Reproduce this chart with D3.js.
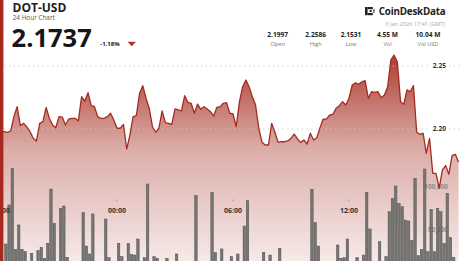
<!DOCTYPE html>
<html><head><meta charset="utf-8">
<script src="https://cdn.jsdelivr.net/npm/d3@7"></script>
<style>
html,body{margin:0;padding:0;background:#fff;overflow:hidden;}
svg{display:block;font-family:"Open Sans",sans-serif;}
</style></head><body>
<svg id="c" width="460" height="261"></svg>
<script>
// ---------- data ----------
const symbol = "DOT-USD";
const subtitle = "24 Hour Chart";
const lastPrice = "2.1737";
const changePct = "-1.18%";
const brand = "CoinDeskData";
const stamp = "6 Jan 2026 17:41 (GMT)";
const statLabels = ["Open", "High", "Low", "Vol", "Vol USD"];
const statValues = ["2.1997", "2.2586", "2.1531", "4.55 M", "10.04 M"];
const priceTicks = [2.20, 2.25];
const volumeTicks = [50000, 100000];
const timeTicks = ["2026-01-05T18:00:00Z", "2026-01-06T00:00:00Z", "2026-01-06T06:00:00Z", "2026-01-06T12:00:00Z"];
const startTime = "2026-01-05T17:50:00Z";
const stepMinutes = 10;
const prices = [
 2.1997,2.1979,2.1979,2.1974,2.1984,2.2098,2.2177,2.2026,2.2045,2.2018,
 2.1979,2.1926,2.1905,2.2045,2.2058,2.2172,2.2085,2.2032,2.2010,2.2098,
 2.2095,2.2032,2.2079,2.2085,2.2085,2.2064,2.2256,2.2222,2.2288,2.2185,
 2.2177,2.2098,2.2085,2.2085,2.2098,2.2125,2.2071,2.2006,2.2006,2.2037,
 2.1841,2.1952,2.2098,2.2106,2.2283,2.2344,2.2244,2.2164,2.2018,2.1974,
 2.2006,2.2143,2.2050,2.2045,2.2037,2.2159,2.2151,2.2143,2.2264,2.2212,
 2.2204,2.2125,2.2198,2.2156,2.2177,2.2159,2.2137,2.2103,2.2172,2.2177,
 2.2204,2.2209,2.2125,2.2119,2.2018,2.2217,2.2336,2.2389,2.2336,2.2256,
 2.2190,2.2006,2.1894,2.1873,2.1873,2.2045,2.1974,2.1894,2.1899,2.1899,
 2.1905,2.1926,2.1960,2.1921,2.1894,2.1913,2.1881,2.1966,2.1913,2.1931,
 2.2010,2.2079,2.2079,2.2111,2.2117,2.2164,2.2185,2.2217,2.2190,2.2244,
 2.2349,2.2367,2.2355,2.2375,2.2383,2.2244,2.2296,2.2291,2.2296,2.2248,
 2.2270,2.2336,2.2548,2.2586,2.2534,2.2217,2.2196,2.2310,2.2296,2.2344,
 2.1974,2.1958,2.1966,2.1807,2.1926,2.1648,2.1648,2.1531,2.1675,2.1709,
 2.1641,2.1788,2.1799,2.1737
];
const volumes = [
 12000,10000,33800,78900,121200,27700,55800,27700,24900,9000,
 23100,8000,26100,30000,17300,34600,97300,57700,10000,75100,
 77700,18500,7000,11000,9000,6000,70000,31500,22300,68500,
 12000,8000,10000,62700,18000,9000,13000,34600,19200,11000,
 34600,21900,21100,39600,12000,18000,103100,10000,19200,17300,
 9000,12000,17300,8000,11000,22300,10000,7000,12000,9000,
 11000,89600,8000,10000,13000,9000,93500,23800,12000,28100,
 10000,9000,19200,11000,22300,12000,54600,83800,9000,11000,
 8000,12000,24200,10000,21100,9000,12000,28900,10000,8000,
 13000,11000,9000,7000,12000,10000,11000,97000,58400,31500,
 9000,12000,8000,10000,13000,32700,17300,18000,39600,11000,
 9000,18000,12000,21100,93500,51200,10000,13000,36500,11000,
 19200,71100,86600,100800,80800,76900,61500,60400,37600,109700,
 20300,27700,120400,24900,73900,24900,75100,71100,34600,92400,
 41100,18500,10000,8000
];

// ---------- build ----------
const W = 460, H = 261;
const svg = d3.select("#c");
const t0 = new Date(startTime);
const times = prices.map((_, i) => d3.utcMinute.offset(t0, i * stepMinutes));
const tEnd = times[times.length - 1];
const data = prices.map((p, i) => ({t: times[i], p, v: volumes[i]}));

const x = d3.scaleUtc().domain([t0, tEnd]).range([-2.2, 458.55]);
const y = d3.scaleLinear().domain([2.20, 2.25]).range([129, 66]);
const yv = d3.scaleLinear().domain([0, 100000]).range([273.3, 186.7]);

const defs = svg.append("defs");
const grad = defs.append("linearGradient").attr("id", "g")
  .attr("gradientUnits", "userSpaceOnUse").attr("x1", 0).attr("x2", 0).attr("y1", 55).attr("y2", H);
grad.append("stop").attr("offset", 0).attr("stop-color", "#a3281c").attr("stop-opacity", 0.9);
grad.append("stop").attr("offset", 0.46).attr("stop-color", "#a3281c").attr("stop-opacity", 0.38);
grad.append("stop").attr("offset", 1).attr("stop-color", "#a3281c").attr("stop-opacity", 0.1);

// area
svg.append("path").datum(data)
  .attr("d", d3.area().x(d => x(d.t)).y0(H).y1(d => y(d.p)))
  .attr("fill", "url(#g)");

// price grid
const gridG = svg.append("g");
priceTicks.forEach(v => {
  [[4, 429], [449, 460]].forEach(([a, b]) => {
    gridG.append("line").attr("x1", a).attr("x2", b).attr("y1", y(v)).attr("y2", y(v))
      .attr("stroke", "#c9c9c9").attr("stroke-width", 1).attr("stroke-dasharray", "1.2,3.6");
  });
});
volumeTicks.forEach(v => {
  gridG.append("line").attr("x1", 4).attr("x2", 460).attr("y1", yv(v)).attr("y2", yv(v))
    .attr("stroke", "#c9c9c9").attr("stroke-width", 1).attr("stroke-dasharray", "1.2,3.6").attr("opacity", 0.8);
});

// volume labels
const fmtV = d3.format(",");
svg.append("g").selectAll("text").data(volumeTicks).join("text")
  .attr("x", 448).attr("y", d => yv(d) + 2.4).attr("text-anchor", "end")
  .attr("font-size", 6.4).attr("font-weight", 700).attr("fill", "#8e8a8a")
  .text(d => fmtV(d));

// bars
svg.append("g").selectAll("rect").data(data.slice(0, data.length)).join("rect")
  .attr("x", (d, i) => x(d.t) + 0.4)
  .attr("width", x(times[1]) - x(times[0]) - 0.8)
  .attr("y", d => yv(d.v))
  .attr("height", d => Math.max(0, yv(0) - yv(d.v)))
  .attr("fill", "#767672").attr("stroke", "#4f4f4d").attr("stroke-width", 0.5);

// line
svg.append("path").datum(data)
  .attr("d", d3.line().x(d => x(d.t)).y(d => y(d.p)))
  .attr("fill", "none").attr("stroke", "#a32c21").attr("stroke-width", 1.3)
  .attr("stroke-linejoin", "round");

// price labels
svg.append("g").selectAll("text").data(priceTicks).join("text")
  .attr("x", 446).attr("y", d => y(d) + 2.4).attr("text-anchor", "end")
  .attr("font-size", 6.6).attr("font-weight", 700).attr("fill", "#333")
  .text(d => d3.format(".2f")(d));

// time labels
const fmtT = d3.utcFormat("%H:%M");
const tg = svg.append("g");
timeTicks.forEach(s => {
  const t = new Date(s);
  const xx = x(t);
  tg.append("rect").attr("x", xx - 0.4).attr("y", 199.5).attr("width", 0.8).attr("height", 1.6).attr("fill", "#888");
  tg.append("text").attr("x", xx).attr("y", 213.4).attr("text-anchor", "middle")
    .attr("font-size", 7).attr("font-weight", 700).attr("fill", "#333").text(fmtT(t));
});

// left border
svg.append("rect").attr("x", 0).attr("y", 0).attr("width", 3.4).attr("height", H).attr("fill", "#a82a1e");

// header left
svg.append("text").attr("x", 12.5).attr("y", 11.8).attr("font-size", 12).attr("font-weight", 700)
  .attr("fill", "#1d1d1f").text(symbol);
svg.append("text").attr("x", 12.7).attr("y", 19.5).attr("font-size", 6.4).attr("fill", "#555").text(subtitle);
svg.append("text").attr("x", 11.6).attr("y", 46.7).attr("font-size", 25.5).attr("font-weight", 700)
  .attr("fill", "#16161a").text(lastPrice);
svg.append("text").attr("x", 100.3).attr("y", 46.1).attr("font-size", 6).attr("font-weight", 700)
  .attr("fill", "#222").text(changePct);
svg.append("path").attr("d", "M127.5,41.7 L136,41.7 L131.75,46.3 Z").attr("fill", "#b0362a");

// header right: logo
const lg = svg.append("g").attr("fill", "#222");
lg.append("rect").attr("x", 365).attr("y", 7).attr("width", 2.6).attr("height", 8.2);
lg.append("rect").attr("x", 367.6).attr("y", 7).attr("width", 5.2).attr("height", 2.2);
lg.append("rect").attr("x", 367.6).attr("y", 13).attr("width", 5.2).attr("height", 2.2);
lg.append("rect").attr("x", 369.6).attr("y", 10.1).attr("width", 2).attr("height", 2);
lg.append("rect").attr("x", 373.2).attr("y", 9.5).attr("width", 1.4).attr("height", 1.4);
lg.append("rect").attr("x", 373.2).attr("y", 11.4).attr("width", 1.4).attr("height", 1.4);
svg.append("text").attr("x", 445.5).attr("y", 14.6).attr("text-anchor", "end")
  .attr("font-size", 9.8).attr("font-weight", 700).attr("letter-spacing", -0.2).attr("fill", "#222").text(brand);
svg.append("text").attr("x", 445).attr("y", 25.6).attr("text-anchor", "end")
  .attr("font-size", 5.6).attr("fill", "#a9a9a9").text(stamp);

const statX = [277.7, 315.7, 351, 387.5, 428];
statValues.forEach((v, i) => {
  svg.append("text").attr("x", statX[i]).attr("y", 36.5).attr("text-anchor", "middle")
    .attr("font-size", 6.6).attr("font-weight", 700).attr("fill", "#222").text(v);
  svg.append("text").attr("x", statX[i]).attr("y", 45.6).attr("text-anchor", "middle")
    .attr("font-size", 5.6).attr("fill", "#777").text(statLabels[i]);
});
</script>
</body></html>
